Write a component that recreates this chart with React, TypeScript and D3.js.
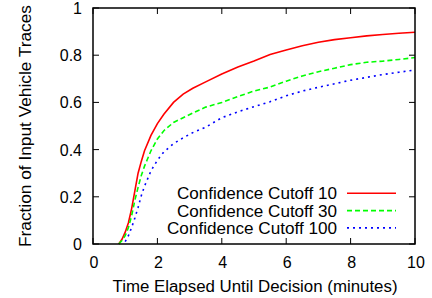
import React from 'react';
import * as d3 from 'd3';

const times = [0.8, 0.9, 1.0, 1.1, 1.2, 1.3, 1.4, 1.5, 1.6, 1.8, 2.0, 2.2, 2.5, 2.8, 3.1, 3.5, 4, 4.5, 5, 5.5, 6, 6.5, 7, 7.5, 8, 8.5, 9, 9.5, 10];
const cutoff10 = [0, 0.02, 0.05, 0.09, 0.15, 0.225, 0.3, 0.35, 0.395, 0.46, 0.51, 0.55, 0.6, 0.635, 0.66, 0.687, 0.72, 0.75, 0.775, 0.803, 0.822, 0.84, 0.855, 0.866, 0.874, 0.882, 0.888, 0.893, 0.897];
const cutoff30 = [0, 0.015, 0.035, 0.07, 0.12, 0.185, 0.24, 0.29, 0.33, 0.395, 0.445, 0.48, 0.515, 0.535, 0.555, 0.58, 0.6, 0.625, 0.648, 0.665, 0.69, 0.712, 0.73, 0.745, 0.76, 0.77, 0.775, 0.782, 0.79];
const cutoff100 = [null, null, 0.01, 0.035, 0.07, 0.11, 0.155, 0.205, 0.245, 0.31, 0.355, 0.39, 0.425, 0.45, 0.472, 0.495, 0.535, 0.56, 0.582, 0.603, 0.628, 0.648, 0.664, 0.679, 0.694, 0.706, 0.718, 0.728, 0.737];

const seriesNames = ['Confidence Cutoff 10', 'Confidence Cutoff 30', 'Confidence Cutoff 100'];
const xTicks = [0, 2, 4, 6, 8, 10];
const yTicks = [0, 0.2, 0.4, 0.6, 0.8, 1];

const colors = ['#ff0000', '#00ff00', '#0000ff'];
const dashes = ['none', '5,3', '2,4'];
const legendWidths = [160, 160, 170];

export default function App() {
    const width = 432;
    const height = 298;
    const margin = { top: 8, right: 17, bottom: 54, left: 93 };
    const innerWidth = width - margin.left - margin.right;
    const innerHeight = height - margin.top - margin.bottom;
    const font = '"Liberation Sans", Arial, sans-serif';

    const xScale = d3.scaleLinear().domain([0, 10]).range([0, innerWidth]);
    const yScale = d3.scaleLinear().domain([0, 1]).range([innerHeight, 0]);

    const line = d3.line<number | null>()
        .defined(d => d !== null)
        .x((d, i) => xScale(times[i]))
        .y(d => yScale(d as number));

    const allSeries = [cutoff10, cutoff30, cutoff100];
    const tickLen = 6;

    return (
        <svg width={width} height={height} style={{ position: 'absolute', left: 0, top: 0 }} fontFamily={font}>
            <g transform={`translate(${margin.left}, ${margin.top})`}>
                {allSeries.map((s, i) => (
                    <path key={i} d={line(s) || ''} fill="none" stroke={colors[i]} strokeWidth={1.6} strokeDasharray={dashes[i]} />
                ))}
                {xTicks.map(t => (
                    <g key={'x' + t}>
                        <line x1={xScale(t)} x2={xScale(t)} y1={innerHeight} y2={innerHeight - tickLen} stroke="black" />
                        <line x1={xScale(t)} x2={xScale(t)} y1={0} y2={tickLen} stroke="black" />
                        <text x={xScale(t) + 1} y={innerHeight + 24} fontSize={16} textAnchor="middle">{t}</text>
                    </g>
                ))}
                {yTicks.map(t => (
                    <g key={'y' + t}>
                        <line x1={0} x2={tickLen} y1={yScale(t)} y2={yScale(t)} stroke="black" />
                        <line x1={innerWidth} x2={innerWidth - tickLen} y1={yScale(t)} y2={yScale(t)} stroke="black" />
                        <text x={-11} y={yScale(t) + 6} fontSize={16} textAnchor="end">{t}</text>
                    </g>
                ))}
                <rect x={0} y={0} width={innerWidth} height={innerHeight} fill="none" stroke="black" strokeWidth={1.5} />
                {seriesNames.map((name, i) => (
                    <g key={name} transform={`translate(0, ${193.3 - margin.top + i * 17.3})`}>
                        <text x={244 - legendWidths[i]} y={6} fontSize={16} textLength={legendWidths[i]} lengthAdjust="spacingAndGlyphs">{name}</text>
                        <line x1={254} x2={303} y1={0} y2={0} stroke={colors[i]} strokeWidth={1.6} strokeDasharray={dashes[i]} />
                    </g>
                ))}
                <text x={innerWidth / 2 + 1} y={innerHeight + 47.5} fontSize={16} textAnchor="middle" textLength={285} lengthAdjust="spacingAndGlyphs">Time Elapsed Until Decision (minutes)</text>
                <text transform={`translate(${-62}, ${innerHeight / 2}) rotate(-90)`} fontSize={16} textAnchor="middle" textLength={242} lengthAdjust="spacingAndGlyphs">Fraction of Input Vehicle Traces</text>
            </g>
        </svg>
    );
}
